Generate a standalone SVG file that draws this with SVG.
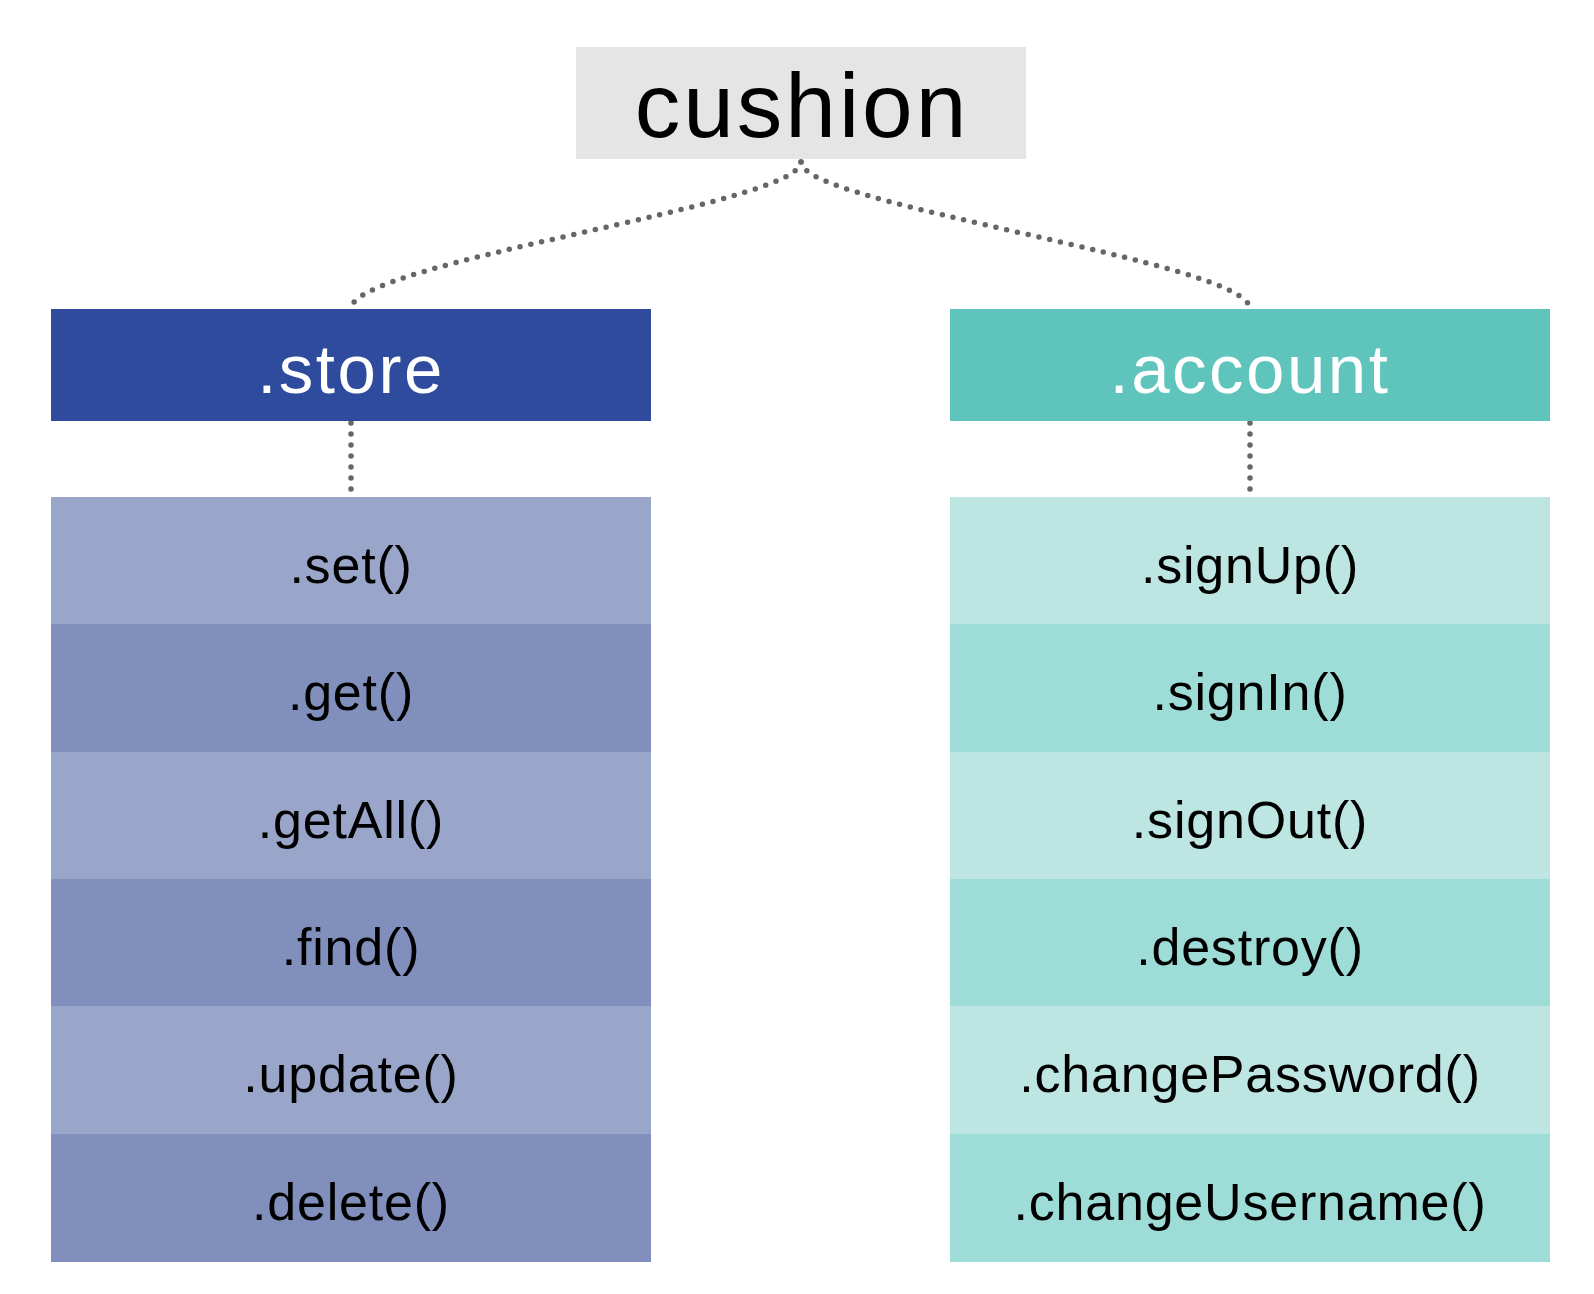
<svg xmlns="http://www.w3.org/2000/svg" width="1594" height="1294" viewBox="0 0 1594 1294">
<style>
.t{font-family:"Liberation Sans",Arial,sans-serif;text-anchor:middle}
.root{font-size:91px;fill:#000;letter-spacing:3px}
.hd{font-size:69px;fill:#fff;letter-spacing:2.5px}
.it{font-size:52px;fill:#000;letter-spacing:0.8px}
.c{fill:none;stroke:#666;stroke-width:5.5;stroke-linecap:round;stroke-dasharray:0 11}
.s1{fill:#99a6c9}.s2{fill:#808fbb}.a1{fill:#bde6e2}.a2{fill:#9edcd7}
</style>
<rect width="1594" height="1294" fill="#fff"/>
<g id="connectors">
<path class="c" d="M801,162 C801,205 351,262 351,309"/>
<path class="c" d="M801,162 C801,205 1250,262 1250,309"/>
<path class="c" d="M351,423 L351,497"/>
<path class="c" d="M1250,423 L1250,497"/>
</g>
<g id="cushion"><rect x="576" y="47" width="450" height="112" fill="#e5e5e5"/><text class="t root" x="802" y="137">cushion</text></g>
<g id="store"><rect x="51" y="309" width="600" height="112" fill="#2f4b9e"/><text class="t hd" x="351" y="393">.store</text></g>
<g id="account"><rect x="950" y="309" width="600" height="112" fill="#5ec4bc"/><text class="t hd" x="1250" y="393">.account</text></g>
<g id="store-set"><rect class="s1" x="51" y="497" width="600" height="128"/><text class="t it" x="351" y="583">.set()</text></g>
<g id="store-get"><rect class="s2" x="51" y="624" width="600" height="128"/><text class="t it" x="351" y="710">.get()</text></g>
<g id="store-getAll"><rect class="s1" x="51" y="752" width="600" height="128"/><text class="t it" x="351" y="838">.getAll()</text></g>
<g id="store-find"><rect class="s2" x="51" y="879" width="600" height="128"/><text class="t it" x="351" y="965">.find()</text></g>
<g id="store-update"><rect class="s1" x="51" y="1006" width="600" height="128"/><text class="t it" x="351" y="1092">.update()</text></g>
<g id="store-delete"><rect class="s2" x="51" y="1134" width="600" height="128"/><text class="t it" x="351" y="1220">.delete()</text></g>
<g id="account-signUp"><rect class="a1" x="950" y="497" width="600" height="128"/><text class="t it" x="1250" y="583">.signUp()</text></g>
<g id="account-signIn"><rect class="a2" x="950" y="624" width="600" height="128"/><text class="t it" x="1250" y="710">.signIn()</text></g>
<g id="account-signOut"><rect class="a1" x="950" y="752" width="600" height="128"/><text class="t it" x="1250" y="838">.signOut()</text></g>
<g id="account-destroy"><rect class="a2" x="950" y="879" width="600" height="128"/><text class="t it" x="1250" y="965">.destroy()</text></g>
<g id="account-changePassword"><rect class="a1" x="950" y="1006" width="600" height="128"/><text class="t it" x="1250" y="1092">.changePassword()</text></g>
<g id="account-changeUsername"><rect class="a2" x="950" y="1134" width="600" height="128"/><text class="t it" x="1250" y="1220">.changeUsername()</text></g>
</svg>
